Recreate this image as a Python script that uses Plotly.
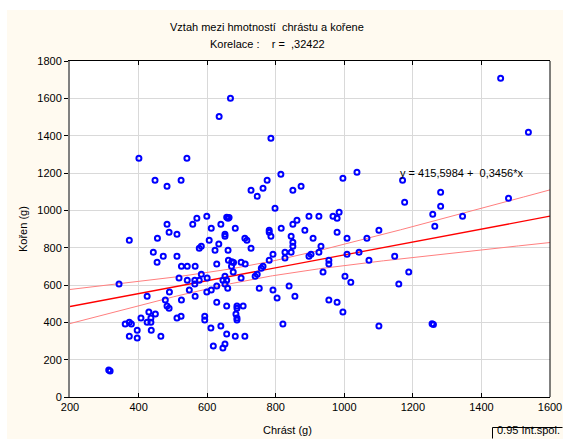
import numpy as np
import plotly.graph_objects as go

# Hmotnost chrástu (x) a kořene (y) v gramech
chrast = [
    401, 541, 635, 668, 448, 483, 524, 483, 558, 570, 599, 612, 640, 657, 661, 664,
    786, 815, 775, 763, 728, 746, 798, 850, 874, 996, 1037, 682, 781, 816, 850, 862,
    897, 926, 967, 979, 985, 885, 1101, 1456, 1537, 1170, 1176, 1281, 1281, 1258, 1264,
    1345, 1479,
    313, 317, 343, 373, 361, 373, 379, 396, 373, 396, 407, 425, 430, 425, 436, 436,
    449, 437, 465, 443, 454, 455, 472, 489, 512, 512, 525, 542, 565, 518, 542, 490,
    478, 483, 489, 525, 512, 524, 548, 564, 577, 564, 565, 583, 577, 583, 606, 623,
    634, 652, 652, 628, 661, 662, 600, 599, 612, 628, 652, 646, 652, 660, 628, 657,
    593, 593, 611, 640, 657, 618, 646, 652,
    710, 716, 728, 672, 677, 671, 699, 711, 676, 699, 657, 687, 705, 684, 687, 687,
    687, 682, 710, 740, 746, 752, 758, 763, 781, 792, 781, 786, 845, 850, 850, 845,
    827, 827, 909, 932, 926, 897, 903, 979, 1008, 1066, 1008, 1043, 1072, 955, 955,
    938, 1002, 1019, 792, 804, 839, 856, 955, 979, 996, 821, 1101,
    1147, 1188, 1159, 1256, 1260,
]
koren = [
    1279, 1279, 1503, 1600, 1161, 1129, 1161, 926, 926, 958, 968, 904, 926, 963, 958, 962,
    1386, 1193, 1161, 1118, 1108, 1075, 1011, 1108, 1129, 1172, 1204, 904, 893, 904, 926, 947,
    968, 968, 968, 958, 990, 893, 893, 1707, 1418, 1161, 1043, 1097, 1022, 979, 915,
    968, 1065,
    145, 139, 605, 840, 391, 401, 391, 358, 326, 316, 423, 540, 455, 401, 423, 401,
    444, 358, 326, 776, 722, 851, 754, 883, 872, 754, 701, 701, 701, 637, 626, 562,
    519, 487, 476, 519, 423, 433, 573, 626, 626, 605, 540, 658, 797, 808, 840, 786,
    819, 872, 861, 712, 786, 733, 637, 562, 573, 594, 647, 626, 605, 583, 508, 487,
    433, 412, 369, 380, 337, 273, 262, 284,
    851, 840, 797, 724, 720, 701, 722, 712, 669, 637, 626, 487, 487, 444, 423, 412,
    476, 326, 326, 647, 658, 583, 690, 701, 733, 765, 883, 861, 861, 829, 808, 776,
    776, 744, 851, 808, 776, 754, 765, 883, 851, 851, 765, 776, 733, 733, 712,
    669, 647, 615, 573, 530, 594, 540, 519, 508, 455, 391, 380,
    754, 669, 605, 393, 388,
]

# Regresní přímka
intercept = 415.5984
slope = 0.3456
r_text = ",32422"

x_ticks = [200, 400, 600, 800, 1000, 1200, 1400, 1600]
y_ticks = [0, 200, 400, 600, 800, 1000, 1200, 1400, 1600, 1800]

x = np.array(chrast, dtype=float)
y = np.array(koren, dtype=float)
n = len(x)

# 95% pás spolehlivosti kolem regresní přímky
xl = np.linspace(200, 1600, 200)
yl = intercept + slope * xl
res = y - (intercept + slope * x)
s = np.sqrt(np.sum(res ** 2) / (n - 2))
sxx = np.sum((x - x.mean()) ** 2)
t = 1.973
half = t * s * np.sqrt(1.0 / n + (xl - x.mean()) ** 2 / sxx)

FONT = "Liberation Sans, Arial, sans-serif"
W, H = 563, 439
L, R, T, B = 70, 13, 61, 42
pw, ph = W - L - R, H - T - B
NB = "\u00a0"


def px(xp):
    return (xp - L) / pw


def py(yp):
    return (H - B - yp) / ph


fig = go.Figure()
fig.add_trace(go.Scatter(x=xl, y=yl + half, mode="lines",
                         line=dict(color="#ff7f7f", width=1), hoverinfo="skip"))
fig.add_trace(go.Scatter(x=xl, y=yl - half, mode="lines",
                         line=dict(color="#ff7f7f", width=1), hoverinfo="skip"))
fig.add_trace(go.Scatter(x=xl, y=yl, mode="lines",
                         line=dict(color="#ff0000", width=1.3), hoverinfo="skip"))
fig.add_trace(go.Scatter(x=chrast, y=koren, mode="markers",
                         marker=dict(symbol="circle-open", size=5, color="#0000ff",
                                     line=dict(width=2, color="#0000ff"))))

eq = "y = {} + {}*x".format(f"{intercept:.4f}".replace(".", ","),
                            f"{slope:.4f}".replace(".", ","))
korelace = "Korelace :" + NB * 4 + "r =" + NB * 2 + r_text

annotations = [
    dict(text="Vztah mezi hmotností" + NB + " chrástu a kořene", x=px(267), y=py(27)),
    dict(text=korelace, x=px(267), y=py(44)),
    dict(text="Chrást (g)", x=px(287), y=py(430)),
    dict(text="Kořen (g)", x=px(23), y=py(229), textangle=-90),
    dict(text=eq.replace(" + ", NB + "+" + NB * 2), x=px(398), y=py(173), xanchor="left"),
    dict(text="0.95 Int.spol.", x=px(495), y=py(438), xanchor="left", yanchor="bottom"),
]
for a in annotations:
    a.setdefault("xanchor", "center")
    a.setdefault("yanchor", "middle")
    a.update(xref="paper", yref="paper", showarrow=False,
             font=dict(family=FONT, size=11, color="#000000"))

shapes = [
    # bílé okraje kolem krémového pozadí
    dict(type="rect", xref="paper", yref="paper", x0=px(0), x1=px(W), y0=py(10), y1=py(0),
         fillcolor="#ffffff", line=dict(width=0), layer="below"),
    dict(type="rect", xref="paper", yref="paper", x0=px(0), x1=px(7), y0=py(H), y1=py(0),
         fillcolor="#ffffff", line=dict(width=0), layer="below"),
    # pravý okraj grafu
    dict(type="line", xref="paper", yref="paper", x0=1, x1=1, y0=0, y1=1,
         line=dict(color="#000000", width=1)),
    # rámeček popisu pásu spolehlivosti (levá a horní hrana)
    dict(type="line", xref="paper", yref="paper", x0=px(492.5), x1=px(492.5),
         y0=py(438.5), y1=py(427.5), line=dict(color="#000000", width=1)),
    dict(type="line", xref="paper", yref="paper", x0=px(492.5), x1=px(562.5),
         y0=py(427.5), y1=py(427.5), line=dict(color="#000000", width=1)),
]

fig.update_layout(
    width=W, height=H, autosize=False,
    margin=dict(l=L, r=R, t=T, b=B, autoexpand=False),
    paper_bgcolor="#fffaf0",
    plot_bgcolor="#ffffff",
    showlegend=False,
    font=dict(family=FONT, size=11, color="#000000"),
    annotations=annotations,
    shapes=shapes,
    xaxis=dict(range=[200, 1600], tickvals=x_ticks, ticktext=[str(v) for v in x_ticks],
               automargin=False,
               showgrid=True, gridcolor="#d9d9d9", gridwidth=1, zeroline=False,
               showline=True, linecolor="#000000", linewidth=1, mirror="ticks",
               ticks="inside", ticklen=4, tickcolor="#000000",
               tickfont=dict(family=FONT, size=11)),
    yaxis=dict(range=[0, 1800], tickvals=y_ticks, ticktext=[str(v) for v in y_ticks],
               automargin=False,
               showgrid=True, gridcolor="#d9d9d9", gridwidth=1, zeroline=False,
               showline=True, linecolor="#808080", linewidth=2, mirror=False,
               ticks="outside", ticklen=4, tickcolor="#000000",
               tickfont=dict(family=FONT, size=11)),
)

fig.write_html("out.html")
